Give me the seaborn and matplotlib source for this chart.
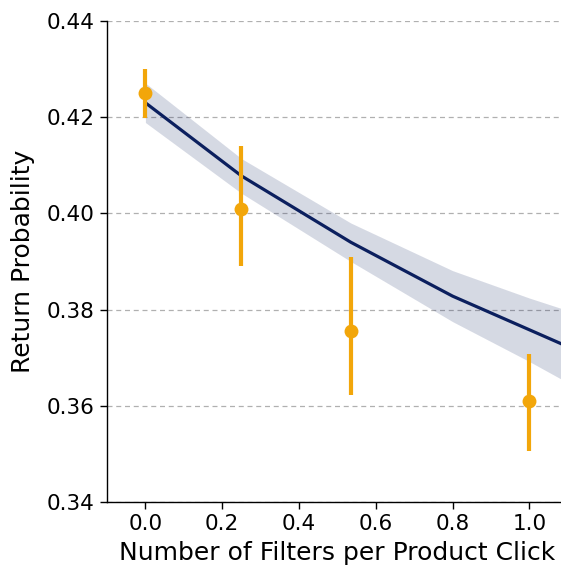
import numpy as np
import pandas as pd
import seaborn as sns
import matplotlib
matplotlib.use("Agg")
import matplotlib.pyplot as plt

# Observed points with error bars
obs_x = [0.0, 0.25, 0.535, 1.0]
obs_y = [0.425, 0.401, 0.3755, 0.361]
obs_lo = [0.4198, 0.389, 0.3622, 0.3506]
obs_hi = [0.430, 0.414, 0.3909, 0.3708]

# Fitted curve and confidence band
fit_x = [0.0, 0.25, 0.535, 0.8, 1.0, 1.1]
fit_y = [0.4230, 0.4078, 0.3940, 0.3828, 0.3758, 0.3723]
fit_half = [0.0041, 0.0036, 0.0040, 0.0053, 0.0066, 0.0075]

x_ticks = [0.0, 0.2, 0.4, 0.6, 0.8, 1.0]
y_ticks = [0.34, 0.36, 0.38, 0.40, 0.42, 0.44]

navy = "#0B1F5E"
orange = "#F2A60A"

sns.set_style("white")
plt.rcParams['font.family'] = ['DejaVu Sans']
plt.rcParams['text.color'] = 'black'
plt.rcParams['axes.labelcolor'] = 'black'
plt.rcParams['xtick.color'] = 'black'
plt.rcParams['ytick.color'] = 'black'

fig = plt.figure(figsize=(5.61, 5.68), dpi=100)
ax = fig.add_axes([107/561, 66/568, 460.8/561, 481/568])

df_fit = pd.DataFrame({"x": fit_x, "y": fit_y})
lo = np.array(fit_y) - np.array(fit_half)
hi = np.array(fit_y) + np.array(fit_half)
ax.fill_between(fit_x, lo, hi, color=navy, alpha=0.17, linewidth=0, zorder=1)
sns.lineplot(data=df_fit, x="x", y="y", color=navy, linewidth=2.3, ax=ax, zorder=3)

df_obs = pd.DataFrame({"x": obs_x, "y": obs_y})
yerr = np.array([np.array(obs_y) - np.array(obs_lo), np.array(obs_hi) - np.array(obs_y)])
ax.errorbar(obs_x, obs_y, yerr=yerr, fmt="none", ecolor=orange, elinewidth=3.0, capsize=0, zorder=4)
sns.scatterplot(data=df_obs, x="x", y="y", color=orange, s=100, edgecolor=orange, linewidth=0, ax=ax, zorder=5)

ax.set_xlim(-0.1, 1.1)
ax.set_ylim(0.34, 0.44)
ax.set_xticks(x_ticks)
ax.set_xticklabels([f"{v:.1f}" for v in x_ticks])
ax.set_yticks(y_ticks)
ax.set_yticklabels([f"{v:.2f}" for v in y_ticks])
ax.yaxis.grid(True, linestyle=(0, (4, 3)), color="#b0b0b0", linewidth=0.9)
ax.xaxis.grid(False)
ax.set_axisbelow(True)

for s in ["top", "right"]:
    ax.spines[s].set_visible(False)
for s in ["left", "bottom"]:
    ax.spines[s].set_color("black")
    ax.spines[s].set_linewidth(1.0)

ax.tick_params(axis="both", which="major", labelsize=15.5, length=5, width=1, color="black", direction="out",
               left=True, bottom=True, pad=4)
ax.set_xlabel("Number of Filters per Product Click", fontsize=18, labelpad=5)
ax.set_ylabel("Return Probability", fontsize=18, labelpad=8)

fig.savefig("out.png", dpi=100)
